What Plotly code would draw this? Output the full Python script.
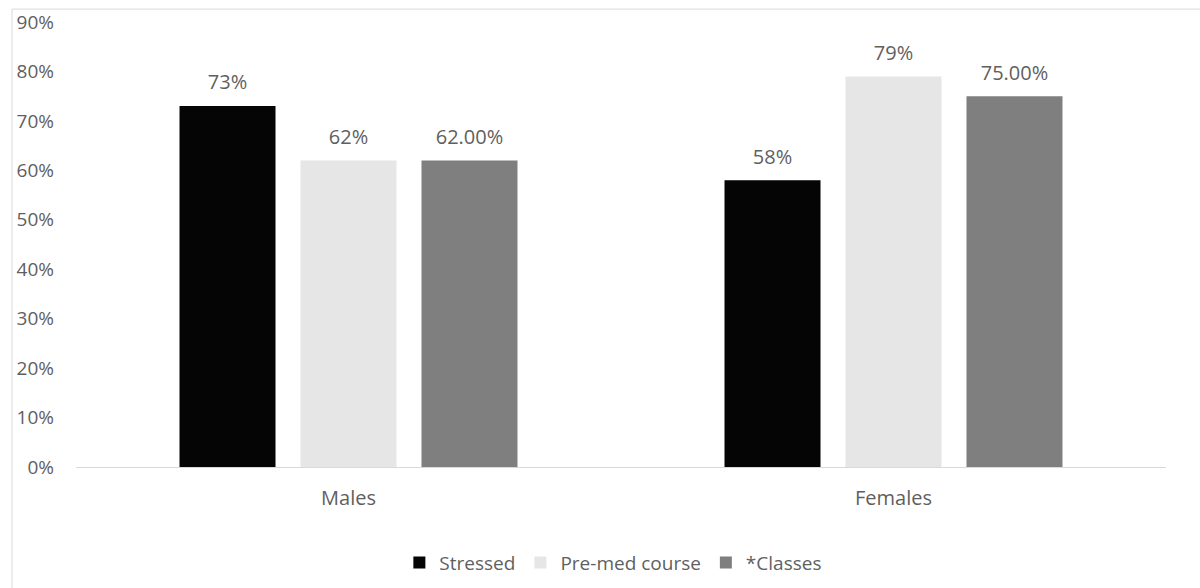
import plotly.graph_objects as go

categories = ["Males", "Females"]
series_names = ["Stressed", "Pre-med course", "*Classes"]
stressed = [0.73, 0.58]
premed = [0.62, 0.79]
classes = [0.62, 0.75]
stressed_labels = ["73%", "58%"]
premed_labels = ["62%", "79%"]
classes_labels = ["62.00%", "75.00%"]
colors = ["#050505", "#E7E6E6", "#7F7F7F"]
ytick_vals = [0, 0.1, 0.2, 0.3, 0.4, 0.5, 0.6, 0.7, 0.8, 0.9]

FONT = "Open Sans, Noto Sans, sans-serif"
TXT = "#5f5f5f"

fig = go.Figure()
series = list(zip(series_names, [stressed, premed, classes],
                  [stressed_labels, premed_labels, classes_labels], colors))
for i, (name, vals, labs, col) in enumerate(series):
    fig.add_trace(go.Bar(
        x=categories, y=vals, name=name, offsetgroup=str(i),
        marker=dict(color=col, line=dict(width=0)),
        hoverinfo="skip",
    ))
for i, (name, vals, labs, col) in enumerate(series):
    fig.add_trace(go.Scatter(
        x=categories, y=vals, text=labs, mode="markers+text", offsetgroup=str(i),
        textposition="top center", cliponaxis=False, showlegend=False,
        marker=dict(size=17, opacity=0),
        textfont=dict(family=FONT, size=20, color=TXT),
        hoverinfo="skip",
    ))

fig.update_layout(
    width=1200, height=588,
    margin=dict(l=76, r=34, t=22, b=121, autoexpand=False),
    paper_bgcolor="white", plot_bgcolor="white",
    barmode="group", bargap=0.334, bargroupgap=0.2066,
    scattermode="group", scattergap=0.334,
    font=dict(family=FONT, size=19, color=TXT),
    showlegend=True,
    legend=dict(orientation="h", x=0.493, xanchor="center", y=-0.215, yanchor="middle",
                font=dict(family=FONT, size=19, color=TXT), itemwidth=30,
                traceorder="normal"),
)
fig.update_yaxes(range=[0, 0.9], tickvals=ytick_vals, tickformat=".0%",
                 showgrid=False, showline=False, zeroline=False,
                 ticklabelstandoff=21, tickfont=dict(family=FONT, size=19, color=TXT))
fig.update_xaxes(showline=True, linecolor="#D9D9D9", linewidth=1, showgrid=False,
                 ticks="", ticklabelstandoff=13,
                 tickfont=dict(family=FONT, size=20, color=TXT))

# chart-area border (top and left edges visible in the crop)
fig.add_shape(type="line", xref="paper", yref="paper", x0=-0.0587, x1=1.04, y0=1.029, y1=1.029,
              line=dict(color="#D9D9D9", width=1))
fig.add_shape(type="line", xref="paper", yref="paper", x0=-0.0587, x1=-0.0587, y0=-0.3, y1=1.029,
              line=dict(color="#D9D9D9", width=1))

fig.write_html("out.html", config={"displayModeBar": False},
               post_script="document.body.style.margin='0';")
